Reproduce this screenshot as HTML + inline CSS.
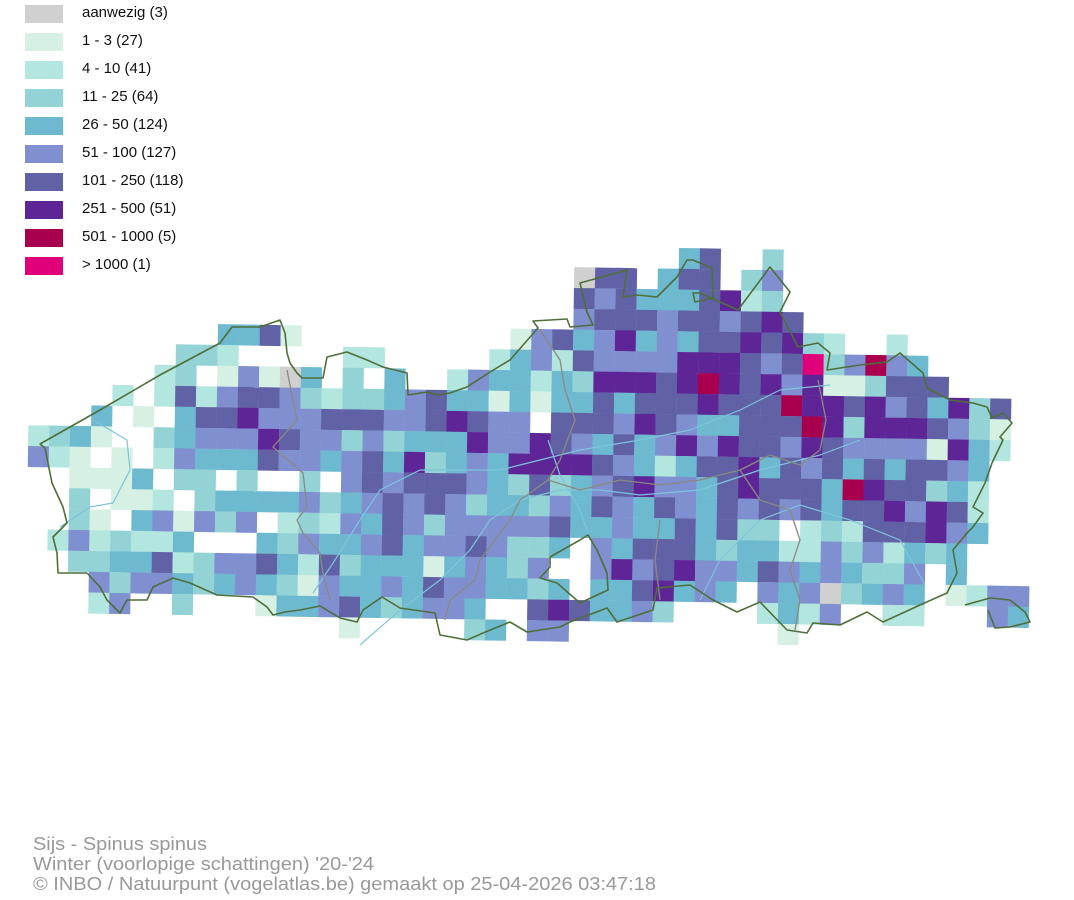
<!DOCTYPE html>
<html><head><meta charset="utf-8"><style>
html,body{margin:0;padding:0;background:#fff;}
svg{display:block;font-family:"Liberation Sans",Arial,sans-serif;}
</style></head><body>
<svg id="s" width="1074" height="900" viewBox="0 0 1074 900" xmlns="http://www.w3.org/2000/svg">
<g id="legend" font-size="15" fill="#111">
<rect x="25" y="5" width="38" height="18" fill="#d0d0d0"/><text x="82" y="17">aanwezig (3)</text>
<rect x="25" y="33" width="38" height="18" fill="#d6f0e4"/><text x="82" y="45">1 - 3 (27)</text>
<rect x="25" y="61" width="38" height="18" fill="#b3e6de"/><text x="82" y="73">4 - 10 (41)</text>
<rect x="25" y="89" width="38" height="18" fill="#94d3d5"/><text x="82" y="101">11 - 25 (64)</text>
<rect x="25" y="117" width="38" height="18" fill="#6db9d0"/><text x="82" y="129">26 - 50 (124)</text>
<rect x="25" y="145" width="38" height="18" fill="#7f8fcf"/><text x="82" y="157">51 - 100 (127)</text>
<rect x="25" y="173" width="38" height="18" fill="#6162a6"/><text x="82" y="185">101 - 250 (118)</text>
<rect x="25" y="201" width="38" height="18" fill="#5e2596"/><text x="82" y="213">251 - 500 (51)</text>
<rect x="25" y="229" width="38" height="18" fill="#a8004f"/><text x="82" y="241">501 - 1000 (5)</text>
<rect x="25" y="257" width="38" height="18" fill="#e0007a"/><text x="82" y="269">&gt; 1000 (1)</text>
</g>
<g id="grid" transform="rotate(0.88 28 450)"></g>
<g fill="none" stroke-linejoin="round">
<polyline stroke="#7cc4dc" stroke-width="1.2" points="60,527 90,507 113,503 130,470 127,440 93,420"/>
<polyline stroke="#7cc4dc" stroke-width="1.2" points="313,593 335,560 360,520 380,490 420,470 460,470 500,470 540,460 580,450 640,440 690,430 740,410 780,390 830,385"/>
<polyline stroke="#7cc4dc" stroke-width="1.2" points="360,645 400,610 440,580 470,550 490,520 520,500 560,490 600,490 640,495 700,490 760,470 820,455 860,440"/>
<polyline stroke="#7cc4dc" stroke-width="1.2" points="700,600 720,560 760,520 800,505 850,520 900,540 925,585"/>
<polyline stroke="#7cc4dc" stroke-width="1.2" points="548,440 560,475 580,510 590,540"/>
<polyline stroke="#8a8a80" stroke-width="1.3" points="287,370 297,420 273,447 303,473 307,507 297,520 303,533 320,553 323,573 330,600"/>
<polyline stroke="#8a8a80" stroke-width="1.3" points="540,330 560,360 565,390 575,420 560,460 548,480 520,500 510,520 495,540 480,560 475,580 450,600 445,620"/>
<polyline stroke="#8a8a80" stroke-width="1.3" points="548,480 580,490 620,480 660,485 700,480 740,470 770,455 800,465 820,450 826,420 818,380"/>
<polyline stroke="#8a8a80" stroke-width="1.3" points="740,470 760,500 790,510 800,540 790,570 800,600 795,630"/>
<polyline stroke="#8a8a80" stroke-width="1.3" points="660,520 655,560 660,600"/>
<polyline stroke="#4f6f3a" stroke-width="1.6" points="87,573 73,573 58,573 57,553 53,537 67,523 63,507 52,483 45,448 40,444 100,410 160,375 220,343 232,327 260,327 280,320 285,333 287,353 290,363 297,373 302,378 323,378 327,357 347,352 367,360 383,367 407,373 408,395 427,392 437,395 450,393 467,387 490,372 510,360 538,328 533,321 567,319 570,327 593,325 587,312 580,283 627,270 623,297 637,295 657,297 677,277 687,260 693,260 712,268 713,298 695,302 693,293 700,293 720,302 738,310 770,267 790,292 780,312 798,347 818,343 830,353 827,370 860,365 887,362 900,353 923,373 927,388 950,400 973,403 987,407 992,418 1003,413 1012,423 1000,437 1003,440 992,463 985,483 973,507 983,513 973,527 967,533 953,550 957,573 947,593 920,605 883,622 867,612 840,625 813,623 807,633 787,630 760,602 737,612 713,600 690,585 657,588 653,610 617,622 607,608 570,622 560,627 527,632 510,622 483,633 467,640 440,635 435,613 400,608 382,597 363,610 357,622 340,618 320,606 300,610 285,612 273,615 267,607 253,597 217,595 190,583 173,578 153,587 147,600 127,600 120,613 107,600 100,587 87,573"/>
<polyline stroke="#4f6f3a" stroke-width="1.6" points="550,557 580,540 588,535 597,550 607,573 608,590 580,603 557,583 540,578 550,567 550,557"/>
<polyline stroke="#4f6f3a" stroke-width="1.6" points="965,605 990,598 1010,600 1025,612 1030,622 1010,627 995,628 988,610"/>
</g>
<g fill="#999" font-size="18">
<text x="33" y="850" textLength="174" lengthAdjust="spacingAndGlyphs">Sijs - Spinus spinus</text>
<text x="33" y="870" textLength="341" lengthAdjust="spacingAndGlyphs">Winter (voorlopige schattingen) '20-'24</text>
<text x="33" y="890" textLength="623" lengthAdjust="spacingAndGlyphs">© INBO / Natuurpunt (vogelatlas.be) gemaakt op 25-04-2026 03:47:18</text>
</g>
</svg>
<script>
var C={g:"#d0d0d0","1":"#d6f0e4","2":"#b3e6de","3":"#94d3d5","4":"#6db9d0","5":"#7f8fcf","6":"#6162a6","7":"#5e2596","8":"#a8004f","9":"#e0007a"};
var R=[
"31:4,32:6,35:3",
"26:g,27:6,28:6,30:4,31:6,32:6,34:3,35:5",
"26:6,27:5,28:6,29:4,30:4,31:4,32:6,33:7,34:2,35:3",
"26:5,27:6,28:6,29:6,30:5,31:6,32:6,33:5,34:6,35:7,36:6",
"9:4,10:4,11:6,12:1,23:1,24:5,25:6,26:4,27:5,28:7,29:4,30:5,31:4,32:6,33:6,34:7,35:6,36:7,37:3,38:2,41:2",
"7:3,8:3,9:2,15:2,16:2,22:2,23:4,24:5,25:2,26:6,27:5,28:5,29:5,30:5,31:7,32:7,33:7,34:6,35:5,36:6,37:9,38:3,39:5,40:8,41:5,42:4",
"6:2,7:3,9:1,10:5,11:1,12:g,13:4,15:3,17:4,20:2,21:5,22:4,23:4,24:2,25:4,26:3,27:7,28:7,29:7,30:6,31:7,32:8,33:7,34:6,35:7,36:5,37:7,38:1,39:1,40:3,41:6,42:6,43:6",
"4:2,6:2,7:6,8:2,9:5,10:6,11:6,12:5,13:3,14:2,15:3,16:3,17:4,18:5,19:6,20:4,21:4,22:1,23:4,24:1,25:4,26:4,27:6,28:4,29:6,30:6,31:6,32:7,33:6,34:6,35:6,36:8,37:7,38:7,39:6,40:7,41:5,42:6,43:4,44:7,45:3,46:6",
"3:4,5:1,7:4,8:6,9:6,10:7,11:5,12:5,13:5,14:6,15:6,16:6,17:5,18:5,19:6,20:7,21:6,22:5,23:5,25:6,26:6,27:6,28:5,29:7,30:6,31:5,32:4,33:4,34:6,35:6,36:6,37:8,38:7,39:3,40:7,41:7,42:7,43:6,44:5,45:3,46:1",
"0:2,1:3,2:4,3:1,6:3,7:4,8:5,9:5,10:5,11:7,12:6,13:5,14:5,15:3,16:5,17:3,18:4,19:4,20:4,21:7,22:5,23:5,24:7,25:6,26:5,27:4,28:6,29:4,30:5,31:7,32:5,33:7,34:6,35:6,36:5,37:7,38:6,39:5,40:5,41:5,42:5,43:1,44:7,45:4,46:2",
"0:5,1:2,2:1,4:1,6:2,7:5,8:4,9:4,10:4,11:6,12:5,13:5,14:4,15:5,16:6,17:4,18:7,19:3,20:4,21:5,22:4,23:7,24:7,25:7,26:7,27:6,28:5,29:4,30:2,31:4,32:6,33:6,34:7,35:4,36:6,37:5,38:6,39:4,40:6,41:4,42:6,43:6,44:5,45:4",
"2:1,3:1,4:1,5:4,7:3,8:3,10:3,13:3,15:5,16:6,17:5,18:6,19:6,20:6,21:5,22:4,23:3,24:6,25:3,26:4,27:5,28:6,29:7,30:5,31:5,32:4,33:6,34:7,35:6,36:6,37:6,38:4,39:8,40:7,41:6,42:6,43:3,44:4,45:2",
"2:3,4:1,5:1,6:2,8:3,9:4,10:4,11:4,12:4,13:5,14:3,15:4,16:5,17:6,18:5,19:6,20:5,21:3,22:4,23:4,24:3,25:5,26:4,27:6,28:5,29:4,30:6,31:5,32:4,33:6,34:5,35:6,36:5,37:6,38:4,39:6,40:6,41:7,42:5,43:7,44:6,45:2",
"2:3,3:1,5:4,6:5,7:1,8:5,9:3,10:5,12:2,13:3,14:2,15:5,16:4,17:6,18:5,19:3,20:5,21:5,22:5,23:5,24:5,25:6,26:4,27:4,28:5,29:4,30:4,31:6,32:4,33:6,34:3,35:3,37:2,38:3,39:2,40:6,41:6,42:6,43:7,44:5,45:4",
"1:2,2:5,3:2,4:3,5:2,6:2,7:4,11:4,12:3,13:5,14:4,15:4,16:5,17:6,18:4,19:5,20:5,21:6,22:5,23:3,24:3,25:4,27:5,28:4,29:6,30:6,31:6,32:4,33:3,34:4,35:4,36:2,37:2,38:5,39:3,40:5,41:2,42:4,43:3,44:4",
"2:3,3:3,4:4,5:4,6:6,7:2,8:3,9:5,10:5,11:6,12:4,13:2,14:6,15:3,16:4,17:4,18:4,19:1,20:4,21:5,22:4,23:3,24:5,27:5,28:7,29:5,30:6,31:7,32:5,33:5,34:4,35:6,36:5,37:4,38:5,39:4,40:3,41:3,42:5,44:4",
"3:5,4:3,5:5,6:5,7:4,8:3,9:4,10:5,11:4,12:3,13:1,14:5,15:4,16:4,17:5,18:4,19:6,20:5,21:5,22:4,23:4,24:3,25:4,27:4,28:4,29:6,30:7,31:4,32:5,33:4,35:5,36:4,37:5,38:g,39:3,40:4,41:5,42:4,44:1,45:2,46:5,47:5",
"3:2,4:5,7:3,11:1,12:4,13:4,14:5,15:6,16:4,17:3,18:4,19:5,20:5,21:4,24:6,25:7,26:6,27:4,28:4,29:5,30:3,35:2,36:4,37:2,38:5,41:2,42:2,46:5,47:4",
"15:1,21:3,22:4,24:5,25:5,36:1"
];
var g=document.getElementById("grid"),ns="http://www.w3.org/2000/svg",h="";
R.forEach(function(row,r){row.split(",").forEach(function(p){var a=p.split(":");var c=+a[0];
h+='<rect x="'+(28+20.9*c).toFixed(1)+'" y="'+(238+20.8*r).toFixed(1)+'" width="21.1" height="21" fill="'+C[a[1]]+'"/>';});});
g.innerHTML=h;
</script>
</body></html>
